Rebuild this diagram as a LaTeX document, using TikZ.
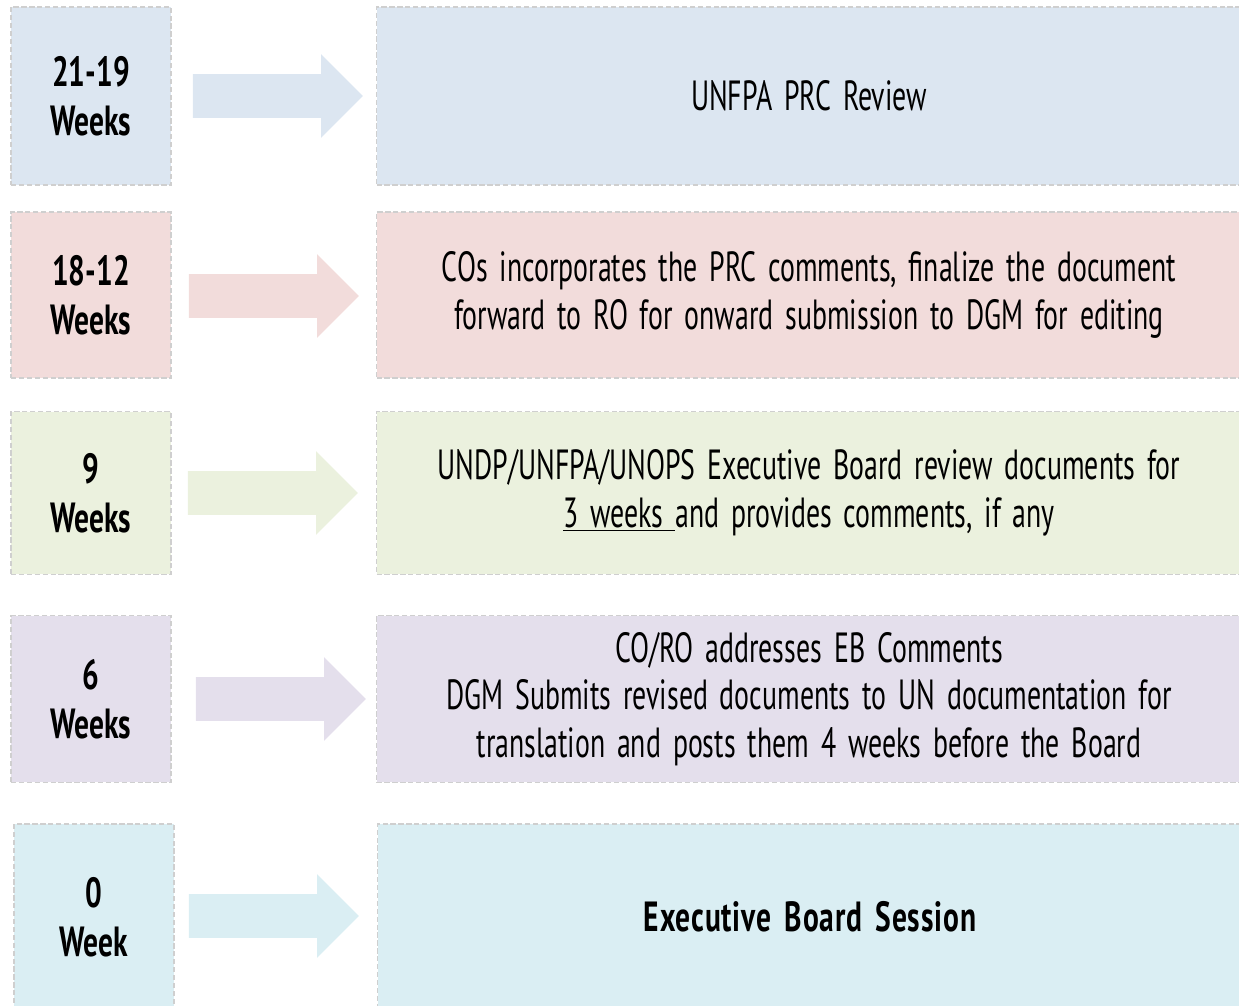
\documentclass[tikz,border=0pt]{standalone}
\usepackage{fontspec}
\setmainfont[FakeStretch=0.66,WordSpace=1.6,BoldFeatures={FakeStretch=0.7}]{PT Sans}
\usepackage{tikz}
\usepackage{xcolor}
\usetikzlibrary{shapes.arrows}

\definecolor{rowblue}{HTML}{DCE6F1}
\definecolor{rowrose}{HTML}{F2DCDB}
\definecolor{rowlime}{HTML}{EBF1DE}
\definecolor{rowlilac}{HTML}{E4DFEC}
\definecolor{rowaqua}{HTML}{DAEEF3}
\definecolor{edgegray}{HTML}{CFCFCF}

\begin{document}
\begin{tikzpicture}[x=0.02cm,y=-0.02cm,
    weekbox/.style={draw=edgegray,line width=0.8pt,dash pattern=on 3pt off 1.5pt,fill=#1,
        minimum width=3.2cm,inner sep=0pt,align=center,
        font=\fontsize{24}{28}\selectfont\bfseries},
    taskbox/.style={draw=edgegray,line width=0.8pt,dash pattern=on 3pt off 1.5pt,fill=#1,
        minimum width=17.3cm,inner sep=0pt,align=center,
        font=\fontsize{24}{27}\selectfont},
    fatarrow/.style={single arrow,fill=#1,draw=none,inner xsep=0pt,inner ysep=0.43cm,
        minimum height=3.4cm,single arrow head extend=0.4cm}]
                \useasboundingbox (0,0) rectangle (1239,1006);
                % 21-19 weeks
                \node[weekbox=rowblue,minimum height=3.56cm] (wk1) at (91,96) {21-19\\Weeks};
                \node[fatarrow=rowblue] (arr1) at (267,96) {};
                \node[taskbox=rowblue,minimum height=3.56cm] (task1) at (809,96) {UNFPA PRC Review};
                % 18-12 weeks
                \node[weekbox=rowrose,minimum height=3.32cm] (wk2) at (91,295) {18-12\\Weeks};
                \node[fatarrow=rowrose] (arr2) at (263,296) {};
                \node[taskbox=rowrose,minimum height=3.32cm] (task2) at (809,295)
                    {COs incorporates the PRC comments, finalize the document\\forward to RO for onward submission to DGM for editing};
                % 9 weeks
                \node[weekbox=rowlime,minimum height=3.26cm] (wk3) at (91,493) {9\\Weeks};
                \node[fatarrow=rowlime] (arr3) at (262,493) {};
                \node[taskbox=rowlime,minimum height=3.26cm] (task3) at (809,493)
                    {UNDP/UNFPA/UNOPS Executive Board review documents for\\\underline{3 weeks\ }and provides comments, if any};
                % 6 weeks
                \node[weekbox=rowlilac,minimum height=3.34cm] (wk4) at (91,699) {6\\Weeks};
                \node[fatarrow=rowlilac] (arr4) at (270,699) {};
                \node[taskbox=rowlilac,minimum height=3.34cm] (task4) at (809,699)
                    {CO/RO addresses EB Comments\\DGM Submits revised documents to UN documentation for\\translation and posts them 4 weeks before the Board};
                % 0 week
                \node[weekbox=rowaqua,minimum height=3.72cm] (wk5) at (94,917) {0\\Week};
                \node[fatarrow=rowaqua] (arr5) at (263,916) {};
                \node[taskbox=rowaqua,minimum height=3.72cm] (task5) at (810,917)
                    {\bfseries\addfontfeature{LetterSpace=2}Executive Board Session};
            \end{tikzpicture}
\end{document}
